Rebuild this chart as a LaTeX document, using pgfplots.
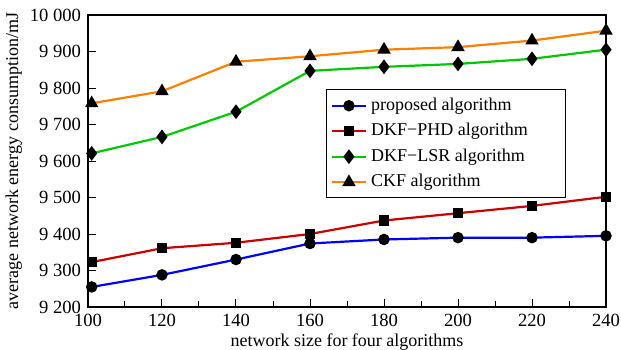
\documentclass[border=0pt]{standalone}
\usepackage{pgfplots}
\pgfplotsset{compat=1.18}
\usepackage{fontspec}
\setmainfont{Liberation Serif}
\definecolor{cOrange}{RGB}{255,128,0}
\definecolor{cGreen}{RGB}{0,200,0}
\definecolor{cRed}{RGB}{200,0,0}
\definecolor{cBlue}{RGB}{0,0,255}
\begin{document}
\begin{tikzpicture}[x=1pt,y=1pt]
\useasboundingbox (-44,-21) rectangle (266.5,153.5);
\begin{axis}[
  at={(0,0)}, anchor=south west,
  scale only axis, width=259pt, height=146pt,
  xmin=100, xmax=240, ymin=9200, ymax=10000,
  xtick={100,120,...,240}, ytick={9200,9300,...,10000},
  minor x tick num=1,
  scaled ticks=false,
  xtick pos=bottom, ytick pos=left, tick align=inside,
  major tick length=4pt, minor tick length=3pt,
  tick style={black, line width=0.5pt},
  axis line style={line width=1pt},
  /pgf/number format/assume math mode=true,
  /pgf/number format/fixed,
  /pgf/number format/1000 sep={\ },
  ticklabel style={font=\fontsize{9.3}{10}\selectfont},
  xlabel={network size for four algorithms},
  ylabel={average network energy consumption/mJ},
  label style={font=\fontsize{9}{10}\selectfont},
  xlabel style={yshift=3.5pt},
  ylabel style={yshift=-3pt},
  legend style={at={(0.46,0.745)}, anchor=north west, font=\fontsize{9}{10}\selectfont, draw=black, line width=0.5pt, row sep=1pt, inner sep=2pt},
  legend cell align=left,
  every axis plot/.append style={line width=1.1pt, mark options={fill=black, draw=black, solid}},
]
\addplot[cBlue, mark=*, mark size=2.3pt] coordinates {(101,9255) (120,9288) (140,9330) (160,9374) (180,9385) (200,9390) (220,9390) (240,9395)};
\addlegendentry{proposed algorithm}
\addplot[cRed, mark=square*, mark size=2pt] coordinates {(101,9323) (120,9361) (140,9376) (160,9400) (180,9437) (200,9457) (220,9477) (240,9502)};
\addlegendentry{DKF\char"2212PHD algorithm\rule{15pt}{0pt}}
\addplot[cGreen, mark=diamond*, mark size=2.8pt] coordinates {(101,9621) (120,9666) (140,9735) (160,9847) (180,9858) (200,9866) (220,9880) (240,9905)};
\addlegendentry{DKF\char"2212LSR algorithm}
\addplot[cOrange, mark=triangle*, mark size=2.8pt] coordinates {(101,9758) (120,9791) (140,9872) (160,9887) (180,9905) (200,9912) (220,9930) (240,9957)};
\addlegendentry{CKF algorithm}
\end{axis}
\end{tikzpicture}
\end{document}
